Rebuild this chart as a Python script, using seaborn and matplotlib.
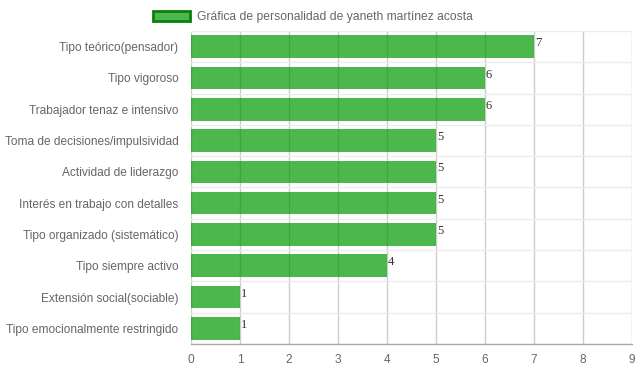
import matplotlib
matplotlib.use("Agg")
import matplotlib.pyplot as plt
from matplotlib.patches import Patch
import seaborn as sns
import pandas as pd

categories = [
    "Tipo teórico(pensador)",
    "Tipo vigoroso",
    "Trabajador tenaz e intensivo",
    "Toma de decisiones/impulsividad",
    "Actividad de liderazgo",
    "Interés en trabajo con detalles",
    "Tipo organizado (sistemático)",
    "Tipo siempre activo",
    "Extensión social(sociable)",
    "Tipo emocionalmente restringido",
]
values = [7, 6, 6, 5, 5, 5, 5, 4, 1, 1]
series_name = "Gráfica de personalidad de yaneth martínez acosta"
x_ticks = list(range(0, 10))

df = pd.DataFrame({"cat": categories, "val": values})

sns.set_theme(style="white")
plt.rcParams["font.family"] = ["Liberation Sans", "DejaVu Sans"]

fig = plt.figure(figsize=(6.39, 3.72), dpi=100)
ax = fig.add_axes([191 / 639, 1 - 344 / 372, 441 / 639, 313 / 372])

bar_rgba = (0.0, 0.6, 0.0, 0.7)
sns.barplot(data=df, y="cat", x="val", orient="h", color=bar_rgba[:3],
            saturation=1, width=0.72, ax=ax, linewidth=0, zorder=2)
for p in ax.patches:
    p.set_alpha(0.7)

n = len(categories)
ax.set_xlim(0, 9)
ax.set_ylim(n - 0.5, -0.5)
ax.set_xticks(x_ticks)
ax.set_xticklabels([str(t) for t in x_ticks])
ax.set_xlabel("")
ax.set_ylabel("")

# vertical grid
for t in x_ticks:
    ax.axvline(t, color="#cccccc", lw=1, zorder=0)
# horizontal (category boundary) grid
for b in [i - 0.5 for i in range(n + 1)]:
    ax.axhline(b, color="#ececec", lw=1, zorder=0)

for s in ["top", "right", "left"]:
    ax.spines[s].set_visible(False)
ax.spines["bottom"].set_color("#aaaaaa")
ax.spines["bottom"].set_linewidth(1)

ax.tick_params(axis="x", length=5, color="#cccccc", colors="#666666", labelsize=8.6, pad=2)
ax.tick_params(axis="y", length=0, colors="#666666", labelsize=8.6, pad=9)
ax.set_yticks([i - 0.5 for i in range(n)], minor=True)
ax.tick_params(axis="y", which="minor", length=9, color="#ececec", width=1)

for i, v in enumerate(values):
    ax.text(v + 0.02, i - 0.11, str(v), family=["Liberation Serif", "DejaVu Serif"],
            fontsize=9, color="#333333", ha="left", va="center", zorder=3)

handle = Patch(facecolor=bar_rgba, edgecolor="#0a800a", linewidth=2)
fig.legend([handle], [series_name], loc="upper center", bbox_to_anchor=(0.49, 1.0),
           frameon=False, fontsize=8.7, labelcolor="#666666", handlelength=3.0,
           handleheight=0.9, handletextpad=0.6)

fig.savefig("out.png", dpi=100)
